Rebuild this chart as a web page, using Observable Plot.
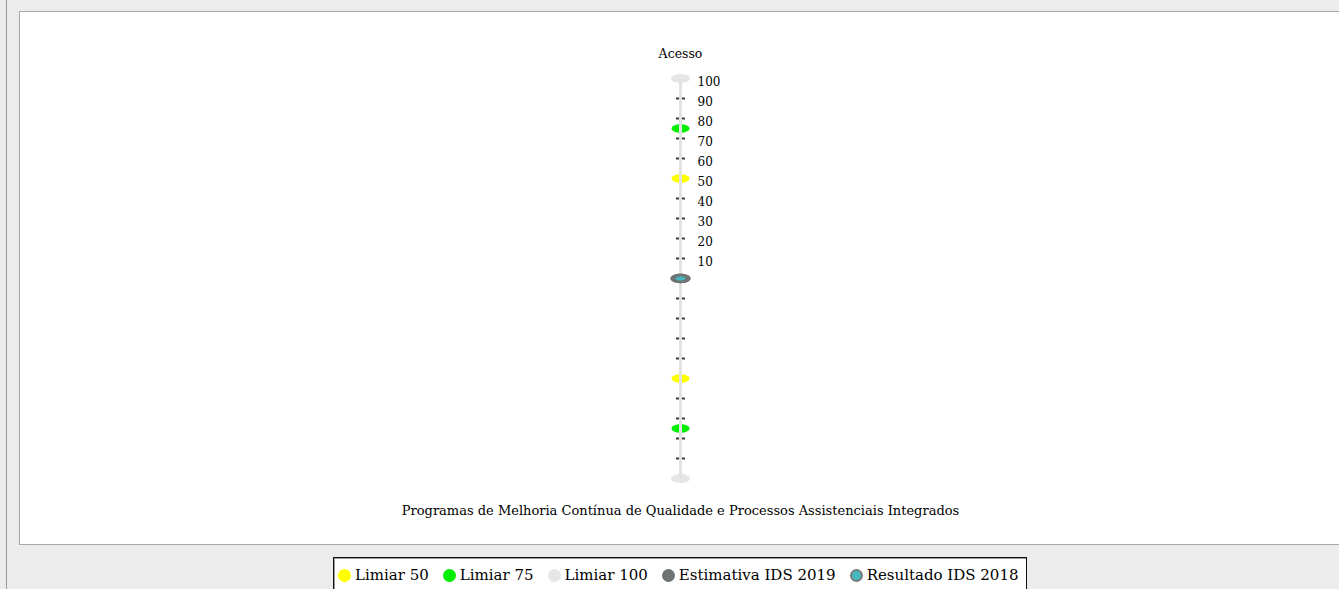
<!DOCTYPE html>
<html>
<head>
<meta charset="utf-8">
<script src="https://cdn.jsdelivr.net/npm/d3@7"></script>
<script src="https://cdn.jsdelivr.net/npm/@observablehq/plot@0.6"></script>
<style>
  html, body { margin: 0; padding: 0; }
  body { width: 1339px; height: 589px; overflow: hidden; background: #ececec; position: relative; font-family: "DejaVu Serif", serif; }
  #leftline { position: absolute; left: 6px; top: 0; width: 1px; height: 589px; background: #9a9a9a; }
  #panel { position: absolute; left: 19px; top: 11px; width: 1330px; height: 532px; background: #fff; border: 1px solid #a8a8a8; }
  #panel svg { display: block; background: transparent; }
  #legend { position: absolute; left: 333px; top: 557px; width: 694px; height: 40px; box-sizing: border-box; background: #fff; border: 1px solid #111; box-shadow: inset 1px 1px 0 #9a9a9a; display: flex; align-items: flex-start; padding: 9px 0 0 4px; font-size: 15px; color: #000; white-space: nowrap; }
  .item { display: flex; align-items: center; margin-right: 14px; line-height: 16px; }
  .sw { width: 13px; height: 13px; border-radius: 50%; margin-right: 4px; box-sizing: border-box; }
</style>
</head>
<body>
<div id="leftline"></div>
<div id="panel"></div>
<div id="legend"></div>
<script>
// ---- data ----
const axisNames = ["Acesso", "Programas de Melhoria Contínua de Qualidade e Processos Assistenciais Integrados"];
const limiar50 = [50, 50];
const limiar75 = [75, 75];
const limiar100 = [100, 100];
const estimativa2019 = [0, 0];
const resultado2018 = [0, 0];
const tickValues = [10, 20, 30, 40, 50, 60, 70, 80, 90];
const tickLabelValues = [10, 20, 30, 40, 50, 60, 70, 80, 90, 100];
const tickLabels = ["10", "20", "30", "40", "50", "60", "70", "80", "90", "100"];
const seriesNames = ["Limiar 50", "Limiar 75", "Limiar 100", "Estimativa IDS 2019", "Resultado IDS 2018"];
const seriesColors = ["#ffff00", "#00ee00", "#e6e6e6", "#6f7373", "#45b8c0"];

// radar geometry: axis i of n at angle 2πi/n, measured from the top
const n = axisNames.length;
const angle = i => (2 * Math.PI * i) / n;
const pt = (v, i) => ({x: v * Math.sin(angle(i)), y: v * Math.cos(angle(i)), v, axis: i});
const seriesPts = vals => vals.map((v, i) => pt(v, i));

const ticks = axisNames.flatMap((_, i) => tickValues.map(v => pt(v, i)));
const labels = tickLabelValues.map((v, k) => ({...pt(v, 0), label: tickLabels[k]}));
const axisEnds = axisNames.map((name, i) => ({...pt(100, i), name}));

// custom symbols
function ellipse(ratio) {
  return {
    draw(ctx, size) {
      const rx = Math.sqrt(size / Math.PI), ry = rx * ratio, k = 0.5523;
      ctx.moveTo(rx, 0);
      ctx.bezierCurveTo(rx, k * ry, k * rx, ry, 0, ry);
      ctx.bezierCurveTo(-k * rx, ry, -rx, k * ry, -rx, 0);
      ctx.bezierCurveTo(-rx, -k * ry, -k * rx, -ry, 0, -ry);
      ctx.bezierCurveTo(k * rx, -ry, rx, -k * ry, rx, 0);
      ctx.closePath();
    }
  };
}
const hline = {
  draw(ctx, size) {
    const w = Math.sqrt(size / Math.PI);
    ctx.moveTo(-w, 0);
    ctx.lineTo(w, 0);
  }
};
const ell = ellipse(0.47);

const W = 1320, H = 532;
const chart = Plot.plot({
  width: W,
  height: H,
  marginTop: 66,
  marginBottom: 66,
  marginLeft: 0,
  marginRight: 0,
  x: {domain: [-330, 330], axis: null},
  y: {domain: [-100, 100], axis: null},
  style: {fontFamily: "'DejaVu Serif', serif", color: "#000", background: "transparent"},
  marks: [
    // tick marks
    Plot.dot(ticks, {x: "x", y: "y", r: 4.5, symbol: hline, stroke: "#3a3a3a", strokeWidth: 2, fill: "none"}),
    // threshold points
    Plot.dot(seriesPts(limiar100), {x: "x", y: "y", r: 9.5, symbol: ell, fill: seriesColors[2], stroke: "none"}),
    Plot.dot(seriesPts(limiar75), {x: "x", y: "y", r: 9, symbol: ell, fill: seriesColors[1], stroke: "none"}),
    Plot.dot(seriesPts(limiar50), {x: "x", y: "y", r: 9, symbol: ell, fill: seriesColors[0], stroke: "none"}),
    // axis lines
    Plot.link(axisEnds, {x1: () => 0, y1: () => 0, x2: "x", y2: "y", stroke: "#e2e2e2", strokeWidth: 3}),
    // estimates / results
    Plot.dot(seriesPts(estimativa2019), {x: "x", y: "y", r: 10, symbol: ell, fill: seriesColors[3], stroke: "none"}),
    Plot.dot(seriesPts(resultado2018), {x: "x", y: "y", r: 5, symbol: ellipse(0.4), fill: seriesColors[4], fillOpacity: 0.8, stroke: "none"}),
    // tick labels
    Plot.text(labels, {x: "x", y: "y", text: "label", dx: 17, dy: 4, textAnchor: "start", fontSize: 12, fill: "#000"}),
    // axis names
    Plot.text(axisEnds.filter(d => d.axis === 0), {x: "x", y: "y", text: "name", dy: -25, fontSize: 12.5, fill: "#000"}),
    Plot.text(axisEnds.filter(d => d.axis === 1), {x: "x", y: "y", text: "name", dy: 32, fontSize: 13, fill: "#000"})
  ]
});
document.getElementById("panel").appendChild(chart);

// legend
const legend = document.getElementById("legend");
seriesNames.forEach((name, i) => {
  const item = document.createElement("div");
  item.className = "item";
  const sw = document.createElement("span");
  sw.className = "sw";
  sw.style.background = seriesColors[i];
  if (i === 4) sw.style.border = "2px solid #7a7a7a";
  const t = document.createElement("span");
  t.textContent = name;
  item.appendChild(sw);
  item.appendChild(t);
  legend.appendChild(item);
});
</script>
</body>
</html>
